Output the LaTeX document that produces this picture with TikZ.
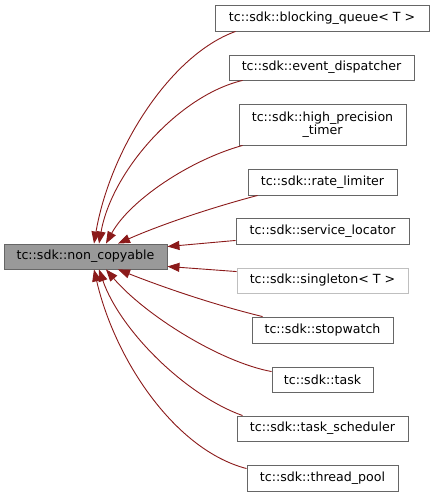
\documentclass[tikz,border=0pt]{standalone}
\usepackage{fontspec}
\setmainfont{DejaVu Sans}
\usetikzlibrary{arrows.meta}

\definecolor{edgered}{RGB}{139,26,26}
\definecolor{boxgray}{RGB}{102,102,102}

\begin{document}
\begin{tikzpicture}[
  x=1pt, y=-1pt,
  cls/.style={draw=boxgray, fill=white, line width=0.9pt, align=center, inner sep=0pt,
    font=\fontsize{12.6}{13}\selectfont},
  basecls/.style={cls, fill=black!40},
  undoc/.style={cls, draw=black!25},
  inh/.style={draw=edgered, line width=0.9pt, -{Triangle[length=12pt, width=9pt]}, edgered}
]
\useasboundingbox (0,0) rectangle (435,496);
\node[basecls, minimum width=163, minimum height=25] (base) at (85.5,256.5) {tc::sdk::non\_copyable};
\node[cls, minimum width=214, minimum height=26] (bq) at (322,18) {tc::sdk::blocking\_queue< T >};
\node[cls, minimum width=185, minimum height=25] (ed) at (321.5,67.5) {tc::sdk::event\_dispatcher};
\node[cls, minimum width=167, minimum height=41] (hp) at (322.5,124.5) {tc::sdk::high\_precision\\\_timer};
\node[cls, minimum width=149, minimum height=26] (rl) at (322.5,182) {tc::sdk::rate\_limiter};
\node[cls, minimum width=173, minimum height=26] (sl) at (322.5,231) {tc::sdk::service\_locator};
\node[undoc, minimum width=171, minimum height=25] (sg) at (322.5,280.5) {tc::sdk::singleton< T >};
\node[cls, minimum width=141, minimum height=26] (sw) at (322.5,330) {tc::sdk::stopwatch};
\node[cls, minimum width=101, minimum height=25] (tk) at (322.5,379.5) {tc::sdk::task};
\node[cls, minimum width=171, minimum height=25] (ts) at (322.5,428.5) {tc::sdk::task\_scheduler};
\node[cls, minimum width=151, minimum height=26] (tp) at (322.5,478) {tc::sdk::thread\_pool};
% derived classes -> base
\draw[inh] ([xshift=21]bq.south west) .. controls (170,55) and (110,150) .. ([xshift=8.5]base.north);
\draw[inh] ([xshift=14]ed.south west) .. controls (180,95) and (112,170) .. ([xshift=13.5]base.north);
\draw[inh] ([xshift=4]hp.south west) .. controls (190,160) and (130,200) .. ([xshift=20.5]base.north);
\draw[inh] ([xshift=10]rl.south west) .. controls (210,208) and (160,225) .. ([xshift=32.5]base.north);
\draw[inh] ([yshift=4]sl.south west) -- ([yshift=-3]base.north east);
\draw[inh] ([yshift=-4]sg.north west) -- ([yshift=3]base.south east);
\draw[inh] ([xshift=11]sw.north west) .. controls (215,305) and (165,288) .. ([xshift=32.5]base.south);
\draw[inh] ([yshift=-5]tk.north west) .. controls (220,362) and (145,315) .. ([xshift=20.5]base.south);
\draw[inh] ([xshift=6]ts.north west) .. controls (185,395) and (120,330) .. ([xshift=13.5]base.south);
\draw[inh] ([yshift=-4]tp.north west) .. controls (175,450) and (115,360) .. ([xshift=8.5]base.south);
\end{tikzpicture}
\end{document}
